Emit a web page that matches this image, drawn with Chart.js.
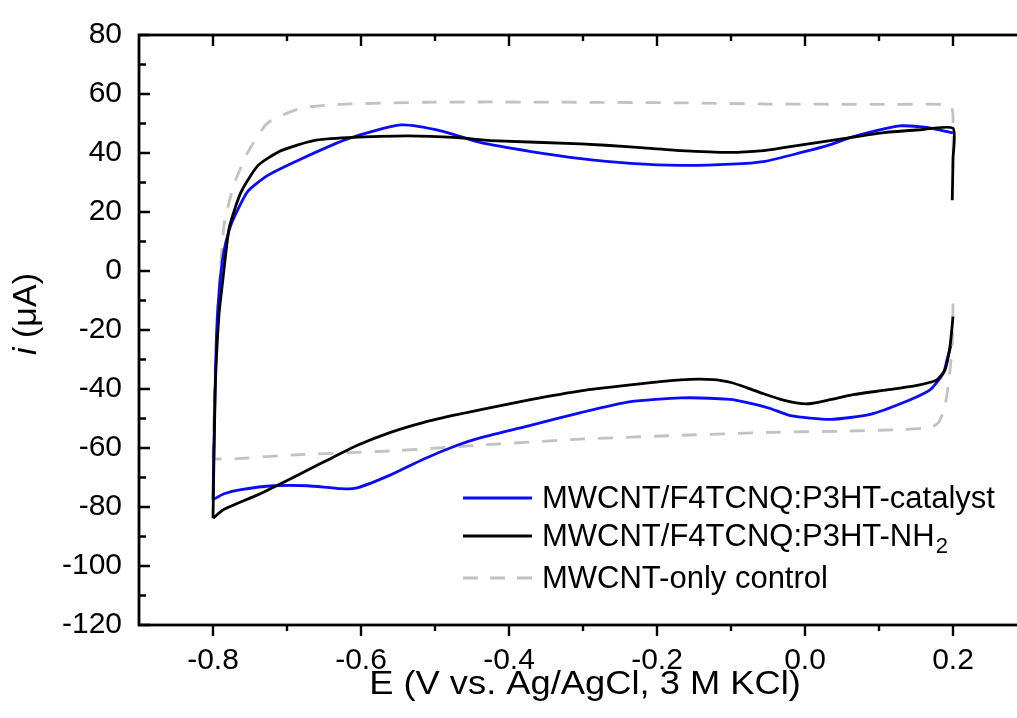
<!DOCTYPE html>
<html><head><meta charset="utf-8">
<script src="https://cdn.jsdelivr.net/npm/chart.js@4.4.1/dist/chart.umd.min.js"></script>
<style>
html,body{margin:0;padding:0;background:#fff;overflow:hidden;width:1017px;height:718px}
#wrap{width:1040px;height:718px}
</style>
</head><body><div id="wrap"><canvas id="c" width="1040" height="718"></canvas></div>
<script>
// ---- tick labels ----
const xTicks = [-0.8, -0.6, -0.4, -0.2, 0.0, 0.2];
const xMinor = [-0.7, -0.5, -0.3, -0.1, 0.1];
const yTicks = [-120, -100, -80, -60, -40, -20, 0, 20, 40, 60, 80];
const yMinor = [-110, -90, -70, -50, -30, -10, 10, 30, 50, 70];

// ---- series names ----
const nameCatalyst = "MWCNT/F4TCNQ:P3HT-catalyst";
const nameNH2 = "MWCNT/F4TCNQ:P3HT-NH";
const nameNH2Sub = "2";
const nameControl = "MWCNT-only control";

// ---- MWCNT/F4TCNQ:P3HT-catalyst (blue) ----
const catalystE = [-0.800, -0.798, -0.795, -0.790, -0.785, -0.778, -0.770, -0.753, -0.726, -0.681, -0.618, -0.546, -0.492, -0.438, -0.370, -0.303, -0.236, -0.168, -0.100, -0.054, -0.006, 0.030, 0.061, 0.095, 0.128, 0.155, 0.175, 0.200,
  0.200,
  0.197, 0.192, 0.187, 0.169, 0.133, 0.088, 0.034, -0.020, -0.047, -0.078, -0.101, -0.168, -0.236, -0.303, -0.371, -0.438, -0.469, -0.515, -0.560, -0.604, -0.627, -0.672, -0.718, -0.762, -0.785, -0.800];
const catalystI = [-77.5, -50, -20, -2, 7, 14, 19, 27, 32.4, 38, 44.8, 49.5, 47.5, 43.5, 40.5, 38.1, 36.5, 35.8, 36.2, 37.2, 40.1, 42.5, 45.2, 47.5, 49.2, 48.9, 48.2, 46.8,
  null,
  -25.5, -30, -34.6, -40.3, -44.6, -48.6, -50.3, -49.0, -46.6, -44.6, -43.5, -43.0, -44.3, -48.0, -52.3, -56.5, -59.0, -63.7, -69.1, -73.4, -73.8, -72.8, -72.8, -74.1, -75.5, -77.5];

// ---- MWCNT/F4TCNQ:P3HT-NH2 (black) ----
const nh2E = [-0.800, -0.797, -0.792, -0.787, -0.778, -0.762, -0.739, -0.708, -0.664, -0.618, -0.537, -0.469, -0.425, -0.303, -0.236, -0.168, -0.101, -0.056, -0.029, 0.016, 0.061, 0.106, 0.151, 0.200, 0.200, 0.199,
  0.200,
  0.200, 0.196, 0.189, 0.178, 0.155, 0.111, 0.065, 0.034, 0.005, -0.012, -0.033, -0.056, -0.078, -0.100, -0.124, -0.168, -0.236, -0.303, -0.371, -0.438, -0.469, -0.515, -0.560, -0.604, -0.650, -0.695, -0.739, -0.785, -0.800];
const nh2I = [-83.8, -40, -15, -3.6, 14.7, 26.8, 35.8, 40.8, 44.2, 45.2, 45.8, 45.2, 44.2, 43.1, 42.1, 40.8, 40.2, 40.8, 41.8, 43.5, 45.2, 46.9, 47.8, 48.4, 38, 24,
  null,
  -15.5, -25.5, -33.6, -36.9, -38.6, -40.3, -41.9, -43.6, -45.0, -44.7, -43.5, -41.6, -39.6, -37.8, -36.8, -36.9, -38.6, -40.6, -43.6, -47.0, -48.6, -51.3, -54.7, -59.0, -64.7, -70.4, -75.8, -80.8, -83.8];

// ---- MWCNT-only control (grey dashed) ----
const controlE = [-0.800, -0.798, -0.794, -0.790, -0.785, -0.772, -0.753, -0.726, -0.681, -0.627, -0.515, -0.425, -0.303, -0.168, -0.047, 0.100, 0.185, 0.197, 0.200, 0.200,
  0.200,
  0.200, 0.199, 0.194, 0.188, 0.180, 0.170, 0.133, 0.050, -0.047, -0.168, -0.303, -0.438, -0.560, -0.695, -0.772, -0.800];
const controlI = [-63.7, -40, -15, 0, 15.7, 29, 40.2, 50.2, 55.2, 56.5, 57.2, 57.3, 57.2, 57.0, 56.6, 56.5, 56.5, 56.0, 53, 35,
  null,
  -11, -25, -38, -47, -51.5, -53, -53.7, -54.3, -54.7, -55.7, -57.0, -59.0, -61.0, -62.4, -63.7, -63.7];

const FONT = "'Liberation Sans', Arial, Helvetica, sans-serif";
const toPts = (xs, ys) => xs.map((x, i) => ({ x: x, y: ys[i] }));

const BLUE = '#0a0aff', BLACK = '#000000', GREY = '#c2c2c2';

const deco = {
  id: 'deco',
  afterDraw(chart) {
    const { ctx, chartArea: a, scales: { x, y } } = chart;
    ctx.save();
    // frame
    ctx.strokeStyle = '#000';
    ctx.lineWidth = 2.8;
    ctx.strokeRect(a.left, a.top, a.right - a.left, a.bottom - a.top);
    // ticks
    ctx.lineWidth = 2.4;
    ctx.beginPath();
    xTicks.forEach(v => { const p = x.getPixelForValue(v);
      ctx.moveTo(p, a.top); ctx.lineTo(p, a.top + 11);
      ctx.moveTo(p, a.bottom); ctx.lineTo(p, a.bottom + 11); });
    xMinor.forEach(v => { const p = x.getPixelForValue(v);
      ctx.moveTo(p, a.top); ctx.lineTo(p, a.top + 6);
      ctx.moveTo(p, a.bottom); ctx.lineTo(p, a.bottom + 6); });
    yTicks.forEach(v => { const p = y.getPixelForValue(v);
      ctx.moveTo(a.left, p); ctx.lineTo(a.left + 11, p); });
    yMinor.forEach(v => { const p = y.getPixelForValue(v);
      ctx.moveTo(a.left, p); ctx.lineTo(a.left + 7, p); });
    ctx.stroke();

    // legend
    const lx0 = 463, lx1 = 532, tx = 542;
    const rows = [498, 536, 578];
    ctx.lineWidth = 3;
    ctx.strokeStyle = BLUE; ctx.setLineDash([]);
    ctx.beginPath(); ctx.moveTo(lx0, rows[0]); ctx.lineTo(lx1, rows[0]); ctx.stroke();
    ctx.strokeStyle = BLACK;
    ctx.beginPath(); ctx.moveTo(lx0, rows[1]); ctx.lineTo(lx1, rows[1]); ctx.stroke();
    ctx.strokeStyle = GREY; ctx.setLineDash([15, 12]);
    ctx.beginPath(); ctx.moveTo(lx0, rows[2]); ctx.lineTo(lx1, rows[2]); ctx.stroke();
    ctx.setLineDash([]);
    ctx.fillStyle = '#000';
    ctx.font = '31px ' + FONT;
    ctx.textAlign = 'left';
    ctx.textBaseline = 'middle';
    ctx.fillText(nameCatalyst, tx, rows[0] + 1);
    ctx.fillText(nameNH2, tx, rows[1] + 1);
    const w2 = ctx.measureText(nameNH2).width;
    ctx.font = '22px ' + FONT;
    ctx.fillText(nameNH2Sub, tx + w2 + 1, rows[1] + 11);
    ctx.font = '31px ' + FONT;
    ctx.fillText(nameControl, tx, rows[2] + 1);

    // y title: italic i (µA)
    ctx.save();
    ctx.translate(27, 314);
    ctx.rotate(-Math.PI / 2);
    ctx.textBaseline = 'middle';
    ctx.textAlign = 'left';
    ctx.font = 'italic 34px ' + FONT;
    const wi = ctx.measureText('i').width;
    ctx.font = '34px ' + FONT;
    const wr = ctx.measureText(' (\u03BCA)').width;
    const start = -(wi + wr) / 2;
    ctx.font = 'italic 34px ' + FONT;
    ctx.fillText('i', start, 0);
    ctx.font = '34px ' + FONT;
    ctx.fillText(' (\u03BCA)', start + wi, 0);
    ctx.restore();

    // x title
    ctx.save();
    ctx.translate(585, 694);
    ctx.scale(1.1, 1);
    ctx.font = '33px ' + FONT;
    ctx.textAlign = 'center';
    ctx.textBaseline = 'alphabetic';
    ctx.fillText('E (V vs. Ag/AgCl, 3 M KCl)', 0, 0);
    ctx.restore();

    ctx.restore();
  }
};

new Chart(document.getElementById('c'), {
  type: 'scatter',
  data: {
    datasets: [
      { label: nameCatalyst, data: toPts(catalystE, catalystI), borderColor: BLUE, borderWidth: 2.8, order: 1 },
      { label: nameNH2 + nameNH2Sub, data: toPts(nh2E, nh2I), borderColor: BLACK, borderWidth: 2.8, order: 0 },
      { label: nameControl, data: toPts(controlE, controlI), borderColor: GREY, borderWidth: 2.8, borderDash: [15, 13], order: 2 }
    ].map(d => Object.assign({ showLine: true, pointRadius: 0, pointHoverRadius: 0, tension: 0.2, fill: false, spanGaps: false }, d))
  },
  options: {
    responsive: false,
    animation: false,
    devicePixelRatio: 1,
    layout: { padding: { left: 0, top: 28, right: 13, bottom: 0 } },
    plugins: { legend: { display: false }, tooltip: { enabled: false } },
    scales: {
      x: {
        type: 'linear', min: -0.9, max: 0.3,
        afterBuildTicks: s => { s.ticks = xTicks.map(v => ({ value: v })); },
        afterFit: s => { s.height = 93; },
        grid: { display: false, drawTicks: false },
        border: { display: false },
        ticks: { padding: 18, color: '#000', font: { family: FONT, size: 30 }, callback: v => Number(v).toFixed(1), maxRotation: 0, autoSkip: false }
      },
      y: {
        type: 'linear', min: -120, max: 80,
        afterBuildTicks: s => { s.ticks = yTicks.map(v => ({ value: v })); },
        afterFit: s => { s.width = 139; },
        grid: { display: false, drawTicks: false },
        border: { display: false },
        ticks: { padding: 17, color: '#000', font: { family: FONT, size: 30 }, callback: v => String(Math.round(v)), autoSkip: false }
      }
    }
  },
  plugins: [deco]
});
</script>
</body></html>
